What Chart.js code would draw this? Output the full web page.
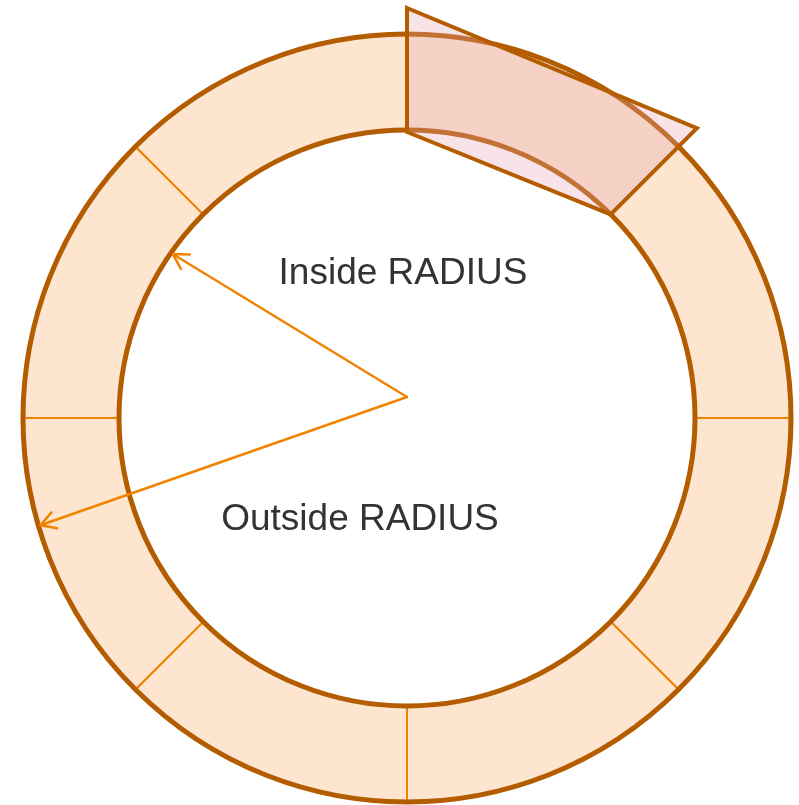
<!DOCTYPE html>
<html>
<head>
<meta charset="utf-8">
<script src="https://cdn.jsdelivr.net/npm/chart.js@4"></script>
<style>
  html, body { margin: 0; padding: 0; background: #fff; }
  #wrap { width: 799px; height: 805px; position: relative; }
</style>
</head>
<body>
<div id="wrap"><canvas id="ringChart"></canvas></div>
<script>
// data
const segmentLabels = ['1', '2', '3', '4', '5', '6', '7', '8'];
const segmentValues = [1, 1, 1, 1, 1, 1, 1, 1];
const highlightIndex = 0;
const radiusLabels = ['Inside RADIUS', 'Outside RADIUS'];

const ringFill = '#fde5cf';
const ringEdge = '#b35c00';
const dividerColor = '#f08300';

function pt(cx, cy, r, a) {
    return [cx + r * Math.cos(a), cy + r * Math.sin(a)];
}

function arrow(ctx, x0, y0, x1, y1) {
    const ang = Math.atan2(y1 - y0, x1 - x0);
    const head = 17;
    ctx.beginPath();
    ctx.moveTo(x0, y0);
    ctx.lineTo(x1, y1);
    ctx.moveTo(x1 - head * Math.cos(ang - 0.52), y1 - head * Math.sin(ang - 0.52));
    ctx.lineTo(x1, y1);
    ctx.lineTo(x1 - head * Math.cos(ang + 0.52), y1 - head * Math.sin(ang + 0.52));
    ctx.stroke();
}

const ringDecor = {
    id: 'ringDecor',
    afterDatasetsDraw(chart) {
        const ctx = chart.ctx;
        const arcs = chart.getDatasetMeta(0).data;
        const a0 = arcs[highlightIndex];
        const cx = a0.x, cy = a0.y;
        const rIn = a0.innerRadius, rOut = a0.outerRadius;

        ctx.save();
        // thick outlines of the ring
        ctx.strokeStyle = ringEdge;
        ctx.lineWidth = 5;
        ctx.beginPath();
        ctx.arc(cx, cy, rOut, 0, Math.PI * 2);
        ctx.stroke();
        ctx.beginPath();
        ctx.arc(cx, cy, rIn, 0, Math.PI * 2);
        ctx.stroke();

        // highlighted segment pulled out as a polygon
        const big = rOut + 26;
        const p1 = pt(cx, cy, big, a0.startAngle);
        const p2 = pt(cx, cy, big, a0.endAngle);
        const p3 = pt(cx, cy, rIn, a0.endAngle);
        const p4 = pt(cx, cy, rIn - 2, a0.startAngle);
        ctx.beginPath();
        ctx.moveTo(p1[0], p1[1]);
        ctx.lineTo(p2[0], p2[1]);
        ctx.lineTo(p3[0], p3[1]);
        ctx.lineTo(p4[0], p4[1]);
        ctx.closePath();
        ctx.fillStyle = 'rgba(232, 165, 178, 0.3)';
        ctx.fill();
        ctx.lineJoin = 'miter';
        ctx.lineWidth = 4;
        ctx.strokeStyle = ringEdge;
        ctx.stroke();

        // radius arrows
        const ox = cx, oy = cy - 21;
        ctx.strokeStyle = dividerColor;
        ctx.lineWidth = 2.5;
        ctx.lineJoin = 'round';
        ctx.lineCap = 'round';
        const e1 = pt(cx, cy, rIn - 2, 215 * Math.PI / 180);
        arrow(ctx, ox, oy, e1[0], e1[1]);
        const e2 = pt(cx, cy, rOut - 2, 163.7 * Math.PI / 180);
        arrow(ctx, ox, oy, e2[0], e2[1]);

        // labels
        ctx.fillStyle = '#333333';
        ctx.font = '37px "Liberation Sans", Arial, sans-serif';
        ctx.textAlign = 'center';
        ctx.textBaseline = 'alphabetic';
        ctx.fillText(radiusLabels[0], cx - 4, cy - 134);
        ctx.fillText(radiusLabels[1], cx - 47, cy + 112);
        ctx.restore();
    }
};

const ctx = document.getElementById('ringChart').getContext('2d');

const ringChart = new Chart(ctx, {
    type: 'doughnut',
    data: {
        labels: segmentLabels,
        datasets: [{
            data: segmentValues,
            backgroundColor: ringFill,
            borderColor: dividerColor,
            borderWidth: 2,
            hoverOffset: 0
        }]
    },
    options: {
        responsive: true,
        maintainAspectRatio: false,
        animation: false,
        cutout: '75%',
        layout: {
            padding: { left: 22, top: 33, right: 7, bottom: 2 }
        },
        plugins: {
            legend: { display: false },
            tooltip: { enabled: false }
        },
        events: []
    },
    plugins: [ringDecor]
});
</script>
</body>
</html>
